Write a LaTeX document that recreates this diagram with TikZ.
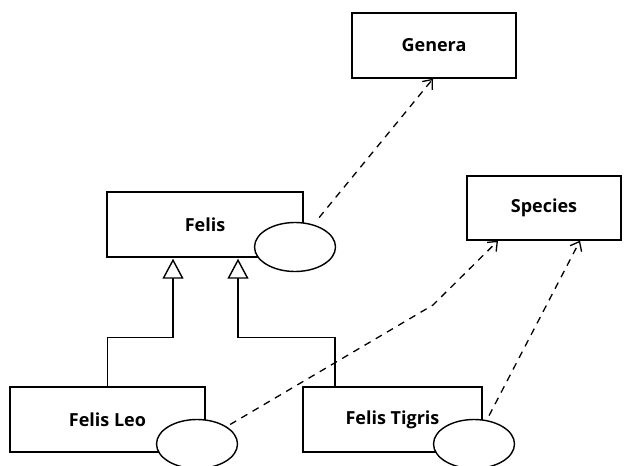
\documentclass[tikz,border=0pt]{standalone}
\usepackage{fontspec}
\setmainfont{Open Sans}
\usetikzlibrary{arrows.meta,shapes.geometric}
\tikzset{
  box/.style={draw, line width=1.4pt, fill=white, inner sep=0pt, font=\fontsize{18}{21}\selectfont\bfseries},
  oval/.style={draw, line width=1.4pt, fill=white, ellipse, inner sep=0pt, minimum width=81pt, minimum height=49pt},
  dep/.style={line width=1.3pt, dash pattern=on 7pt off 6pt, -{Straight Barb[length=8pt,width=13pt,line width=1.3pt]}},
  inh/.style={line width=1.4pt, -{Triangle[open,length=20pt,width=21pt,fill=white,line width=1.4pt]}}
}
\begin{document}
\begin{tikzpicture}[x=1pt,y=-1pt]
\useasboundingbox (0,0) rectangle (628,465);
\clip (0,0) rectangle (628,465);
\node[box, minimum width=164pt, minimum height=65pt] (genera) at (434,45.5) {Genera};
\node[box, minimum width=154pt, minimum height=64pt] (species) at (544,208) {Species};
\node[box, minimum width=196pt, minimum height=65pt] (felis) at (205,224.5) {Felis};
\node[box, minimum width=195pt, minimum height=65pt] (leo) at (107.5,419.5) {Felis Leo};
\node[box, minimum width=179pt, minimum height=65pt] (tigris) at (392.5,419.5) {Felis Tigris};
\node[oval] (fe) at (295,247) {};
\node[oval] (le) at (197,444) {};
\node[oval] (te) at (474,444) {};
\coordinate (bend) at (433,305);
\draw[inh] (leo.north) -- ++(0,-49) -| ([xshift=-32pt,yshift=-1pt]felis.south);
\draw[inh] ([xshift=-57.5pt]tigris.north) -- ++(0,-49) -| ([xshift=33pt,yshift=-1pt]felis.south);
\draw[dep, shorten <=9pt] (fe) -- ([xshift=-1pt]genera.south);
\draw[dep, shorten <=4pt] (le) -- (bend) -- ([xshift=-46pt]species.south);
\draw[dep, shorten <=5pt] (te.62) -- ([xshift=36pt]species.south);
\end{tikzpicture}
\end{document}
